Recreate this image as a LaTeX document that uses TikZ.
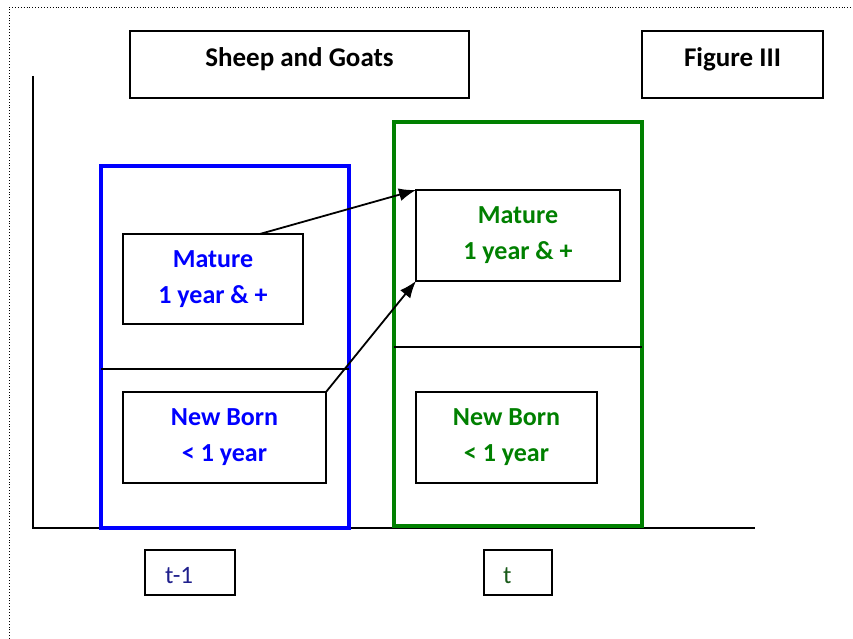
\documentclass[tikz,border=0pt]{standalone}
\usepackage{fontspec}
\setmainfont{Carlito}
\usetikzlibrary{arrows.meta,calc}
\definecolor{frameblue}{RGB}{0,0,255}
\definecolor{framegreen}{RGB}{0,128,0}
\definecolor{navytext}{RGB}{31,31,140}
\definecolor{darkgreentext}{RGB}{25,90,25}
\tikzset{
  box/.style={draw=black, line width=1.6pt, fill=white, inner sep=0pt, outer sep=0pt,
    align=center, font=\fontsize{26}{36}\selectfont\bfseries},
  titlebox/.style={box, font=\fontsize{27}{30}\selectfont\bfseries},
  frame/.style={line width=4pt, inner sep=0pt, outer sep=0pt},
  divider/.style={draw=black, line width=1.3pt},
  axisline/.style={draw=black, line width=1.6pt},
  flow/.style={draw=black, line width=1.8pt, -{Latex[length=17pt,width=13pt]}},
  timebox/.style={draw=black, line width=1.6pt, inner sep=0pt, outer sep=0pt},
  timelabel/.style={anchor=west, inner sep=0pt, font=\fontsize{25}{28}\selectfont}
}
\begin{document}
\begin{tikzpicture}[x=1pt,y=-1pt]
\useasboundingbox (0,0) rectangle (853,639);
% page edge, dotted
\draw[line width=0.9pt, dotted] (9,639) -- (9,7) -- (853,7);

% axes
\coordinate (ytop) at (33,76);
\coordinate (origin) at (33,528);
\coordinate (xend) at (755,528);
\draw[axisline] (ytop) -- (origin) -- (xend);

% titles
\node[box, minimum width=339, minimum height=67] (title) at (299.5,64.5) {};
\node[titlebox, draw=none, fill=none] (titletext) at (299.5,59) {Sheep and Goats};
\node[box, minimum width=181, minimum height=67] (fig) at (732.5,64.5) {};
\node[titlebox, draw=none, fill=none] (figtext) at (732.5,59) {Figure III};

% year t-1 frame
\node[frame, draw=frameblue, minimum width=248, minimum height=362] (bf) at (225,347) {};
\draw[divider] (bf.west |- 0,369) -- (bf.east |- 0,369);
\node[box, text=frameblue, minimum width=180, minimum height=90] (bm) at (213,279) {Mature\\1 year \& +};
\node[box, text=frameblue, minimum width=203, minimum height=91] (bn) at (224.5,437.5) {New Born\\< 1 year};

% year t frame
\node[frame, draw=framegreen, minimum width=248, minimum height=404] (gf) at (518,324) {};
\draw[divider] (gf.west |- 0,347) -- (gf.east |- 0,347);
\node[box, text=framegreen, minimum width=204, minimum height=91] (gm) at (518,235.5) {Mature\\1 year \& +};
\node[box, text=framegreen, minimum width=181, minimum height=91] (gn) at (506.5,437.5) {New Born\\< 1 year};

% time labels
\node[timebox, minimum width=90, minimum height=45] (tprev) at (190,572.5) {};
\node[timelabel, text=navytext] (tprevtext) at (165,576) {t-1};
\node[timebox, minimum width=68, minimum height=45] (tcur) at (518,572.5) {};
\node[timelabel, text=darkgreentext] (tcurtext) at (503,576) {t};

% transitions
\draw[flow] ($(bm.north west)!0.76!(bm.north east)$) -- (gm.north west);
\draw[flow] (bn.north east) -- (gm.south west);
\end{tikzpicture}
\end{document}
